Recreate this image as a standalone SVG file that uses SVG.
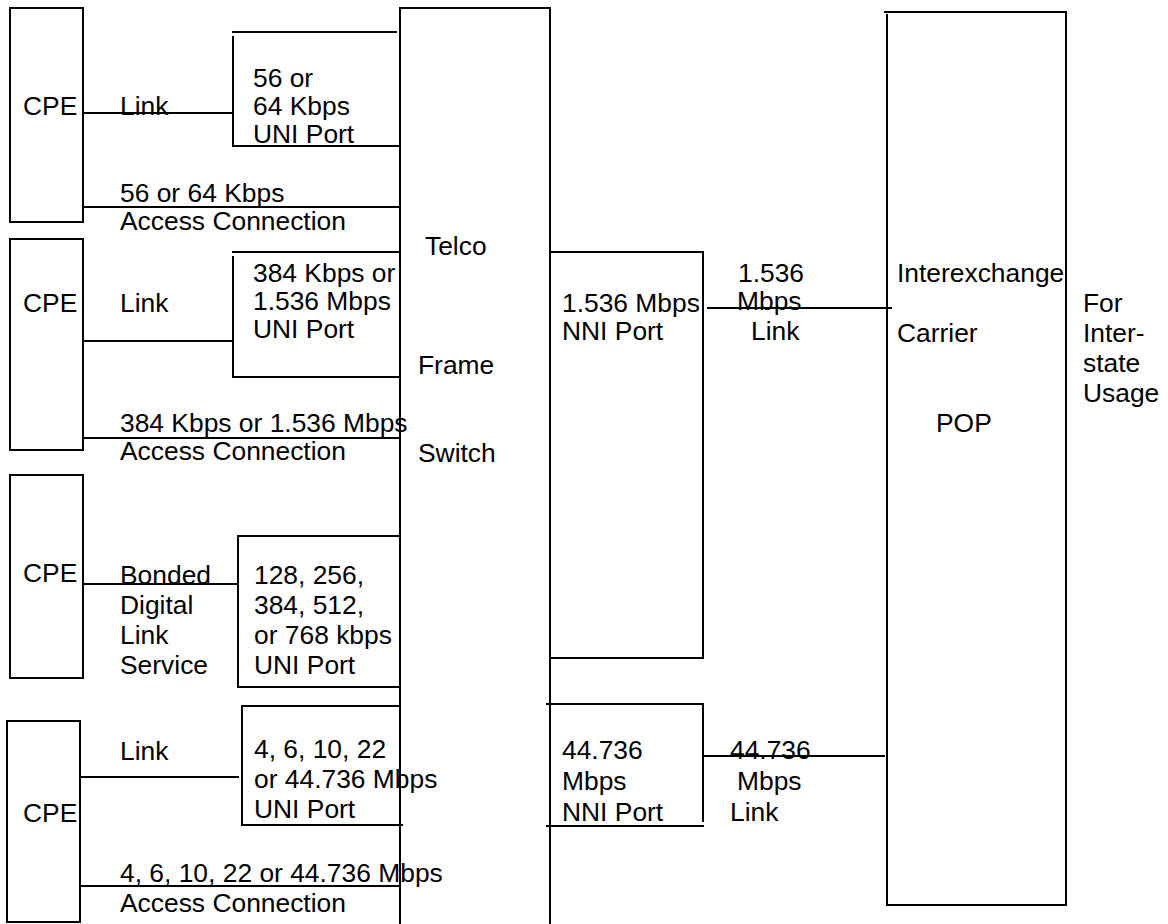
<svg xmlns="http://www.w3.org/2000/svg" width="1168" height="924" viewBox="0 0 1168 924">
<style>
.ln{stroke:#000;stroke-width:2;fill:none;stroke-linecap:square}
text{font-family:"Liberation Sans",Arial,sans-serif;font-size:26.4px;fill:#000}
</style>
<rect width="1168" height="924" fill="#fff"/>
<g id="cpe1">
<rect class="ln" x="10" y="8" width="73" height="214"/>
<text x="23" y="115">CPE</text>
</g>
<g id="cpe2">
<rect class="ln" x="10" y="239" width="73" height="211"/>
<text x="23" y="312">CPE</text>
</g>
<g id="cpe3">
<rect class="ln" x="10" y="475" width="73" height="203"/>
<text x="23" y="582">CPE</text>
</g>
<g id="cpe4">
<rect class="ln" x="7" y="721" width="73" height="201"/>
<text x="23" y="822">CPE</text>
</g>
<g id="uni1">
<path class="ln" d="M233,32 H396 M233,37 V146 H400"/>
<text x="253" y="87">56 or</text>
<text x="253" y="115">64 Kbps</text>
<text x="253" y="143">UNI Port</text>
</g>
<g id="uni2">
<path class="ln" d="M233,252 H400 M233,257 V377 H400"/>
<text x="253" y="282">384 Kbps or</text>
<text x="253" y="310">1.536 Mbps</text>
<text x="253" y="338">UNI Port</text>
</g>
<g id="uni3">
<path class="ln" d="M400,536 H238 V687 H400"/>
<text x="254" y="584">128, 256,</text>
<text x="254" y="614">384, 512,</text>
<text x="254" y="644">or 768 kbps</text>
<text x="254" y="674">UNI Port</text>
</g>
<g id="uni4">
<path class="ln" d="M400,706 H242 V825 H402"/>
<text x="254" y="758">4, 6, 10, 22</text>
<text x="254" y="788">or 44.736 Mbps</text>
<text x="254" y="818">UNI Port</text>
</g>
<g id="switch">
<path class="ln" d="M400,924 V8 H550 V924"/>
<text x="425" y="255">Telco</text>
<text x="418" y="374">Frame</text>
<text x="418" y="462">Switch</text>
</g>
<g id="nni1">
<path class="ln" d="M550,252 H703 V658 H550"/>
<text x="562" y="312">1.536 Mbps</text>
<text x="562" y="340">NNI Port</text>
</g>
<g id="nni2">
<path class="ln" d="M547,704 H703 V821 M547,826 H703"/>
<text x="562" y="759">44.736</text>
<text x="562" y="790">Mbps</text>
<text x="562" y="821">NNI Port</text>
</g>
<g id="ixc">
<path class="ln" d="M885,12 H1066 V905 H887 V15"/>
<text x="897" y="282">Interexchange</text>
<text x="897" y="342">Carrier</text>
<text x="936" y="432">POP</text>
</g>
<g id="usage">
<text x="1083" y="312">For</text>
<text x="1083" y="342">Inter-</text>
<text x="1083" y="372">state</text>
<text x="1083" y="402">Usage</text>
</g>
<g id="connectors">
<path class="ln" d="M83,113 H233"/>
<path class="ln" d="M83,207 H400"/>
<path class="ln" d="M83,341 H233"/>
<path class="ln" d="M83,438 H400"/>
<path class="ln" d="M83,584 H238"/>
<path class="ln" d="M80,777 H238"/>
<path class="ln" d="M80,886 H400"/>
<path class="ln" d="M708,308 H891"/>
<path class="ln" d="M703,756 H884"/>
</g>
<g id="labels">
<text x="120" y="115">Link</text>
<text x="120" y="202">56 or 64 Kbps</text>
<text x="120" y="230">Access Connection</text>
<text x="120" y="312">Link</text>
<text x="120" y="432">384 Kbps or 1.536 Mbps</text>
<text x="120" y="460">Access Connection</text>
<text x="120" y="584">Bonded</text>
<text x="120" y="614">Digital</text>
<text x="120" y="644">Link</text>
<text x="120" y="674">Service</text>
<text x="120" y="760">Link</text>
<text x="120" y="882">4, 6, 10, 22 or 44.736 Mbps</text>
<text x="120" y="912">Access Connection</text>
<text x="738" y="282">1.536</text>
<text x="737" y="310">Mbps</text>
<text x="751" y="340">Link</text>
<text x="730" y="759">44.736</text>
<text x="737" y="790">Mbps</text>
<text x="730" y="821">Link</text>
</g>
</svg>
